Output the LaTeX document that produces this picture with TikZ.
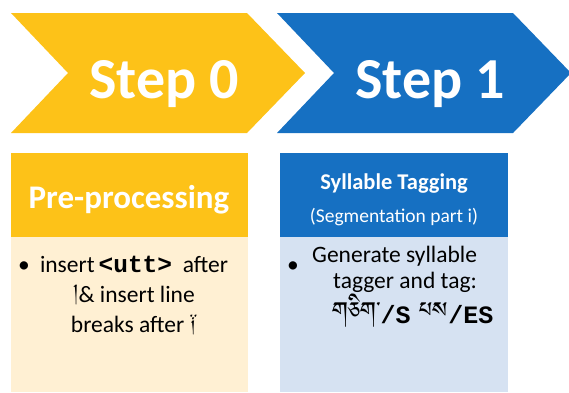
\documentclass[tikz,border=0pt]{standalone}
\usepackage{fontspec}
\setmainfont{Carlito}
\newfontfamily\codefont{Liberation Mono}
% Tibetan letters want a font of their own
\IfFontExistsTF{Jomolhari}{\newfontfamily\tibfont[Script=Tibetan]{Jomolhari}}{%
  \IfFontExistsTF{Tibetan Machine Uni}{\newfontfamily\tibfont[Script=Tibetan]{Tibetan Machine Uni}}{%
    \IfFontExistsTF{Noto Sans Tibetan}{\newfontfamily\tibfont[Script=Tibetan]{Noto Sans Tibetan}}{%
      \IfFontExistsTF{Noto Serif Tibetan}{\newfontfamily\tibfont[Script=Tibetan]{Noto Serif Tibetan}}{%
        \newfontfamily\tibfont{DejaVu Sans}}}}}

\definecolor{stepyellow}{HTML}{FDC218}
\definecolor{stepblue}{HTML}{1670C2}
\definecolor{paleyellow}{HTML}{FFF0D3}
\definecolor{paleblue}{HTML}{D6E2F2}

\newcommand\tagmark[1]{{\codefont\bfseries\fontsize{25}{25.5}\selectfont#1}}

\begin{document}
\begin{tikzpicture}[x=1pt, y=-1pt,
    steplabel/.style={anchor=base, text=white, font=\fontsize{58}{58}\selectfont\bfseries},
    headtext/.style={anchor=base, text=white},
    bodytext/.style={inner sep=0pt, font=\fontsize{23.5}{30}\selectfont}]
  \useasboundingbox (0,0) rectangle (569,392);
  % the two step chevrons
  \foreach \n/\x/\col in {0/11/stepyellow, 1/277/stepblue}
    {
      \fill[\col] (\x,13) -- ++(236,0) -- ++(58,60) -- ++(-58,60)
        -- ++(-236,0) -- ++(57,-60) -- cycle;
      \node[steplabel] (step\n) at ({\x+153},98) {Step \n};
    }
  % boxes below them
  \fill[stepyellow] (11,153) rectangle (248,237);
  \fill[paleyellow] (11,237) rectangle (248,392);
  \fill[stepblue] (280,153) rectangle (508,237);
  \fill[paleblue] (280,237) rectangle (508,392);
  \node[headtext, font=\fontsize{33}{33}\selectfont\bfseries] (prep) at (129,208) {Pre-processing};
  \node[headtext, font=\fontsize{22.5}{24}\selectfont\bfseries] (sylt) at (394,189) {Syllable Tagging};
  \node[headtext, font=\fontsize{19.5}{20}\selectfont] (segm) at (394,222) {(Segmentation part i)};
  % bullet points (base of a multi-line node sits on its last line)
  \node[bodytext, anchor=base] (bul0) at (24,272) {\textbullet};
  \node[bodytext, anchor=base, align=center] (preptext) at (134,332)
    {insert\,{\codefont\bfseries\fontsize{24.5}{30}\selectfont<utt>}\ \ after\\
     {\tibfont །}\&~insert line\\
     breaks after {\tibfont ༑}};
  \node[bodytext, anchor=base] (bul1) at (293,272) {\textbullet};
  \node[bodytext, anchor=base west, align=left, font=\fontsize{23.5}{25.5}\selectfont] (sylltext) at (312,323)
    {Generate syllable\\
     \hspace*{21pt}tagger and tag:\\
     \hspace*{20pt}{\tibfont\fontsize{28}{25.5}\selectfont གཅིག་}\tagmark{/S}\hspace{9pt}%
     {\tibfont\fontsize{28}{25.5}\selectfont པས}\tagmark{/ES}};
\end{tikzpicture}
\end{document}
